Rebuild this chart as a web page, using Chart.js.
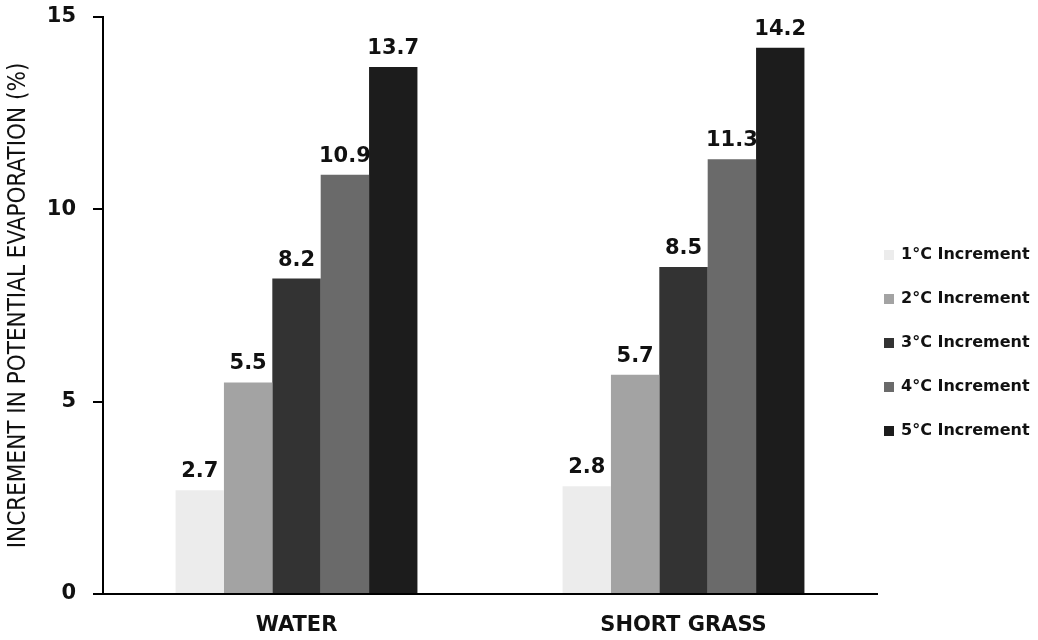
<!DOCTYPE html>
<html>
<head>
<meta charset="utf-8">
<script src="https://cdn.jsdelivr.net/npm/chart.js@4.4.0/dist/chart.umd.min.js"></script>
<style>
  html, body { margin: 0; padding: 0; background: #fff; }
  #wrap { width: 1038px; height: 640px; }
</style>
</head>
<body>
<div id="wrap"><canvas id="evap"></canvas></div>
<script>
  // data
  const categories = ['WATER', 'SHORT GRASS'];
  const seriesNames = ['1°C Increment', '2°C Increment', '3°C Increment', '4°C Increment', '5°C Increment'];
  const inc1 = [2.7, 2.8];
  const inc2 = [5.5, 5.7];
  const inc3 = [8.2, 8.5];
  const inc4 = [10.9, 11.3];
  const inc5 = [13.7, 14.2];
  const yTicks = [0, 5, 10, 15];

  const colours = ['#ececec', '#a3a3a3', '#333333', '#6a6a6a', '#1c1c1c'];
  const boldFont = "'DejaVu Sans', Verdana, sans-serif";

  // value labels above each bar
  const valueLabels = {
    id: 'valueLabels',
    afterDatasetsDraw(chart) {
      const ctx = chart.ctx;
      ctx.save();
      ctx.font = 'bold 21px ' + boldFont;
      ctx.fillStyle = '#111';
      ctx.textAlign = 'center';
      ctx.textBaseline = 'alphabetic';
      chart.data.datasets.forEach((ds, i) => {
        chart.getDatasetMeta(i).data.forEach((bar, j) => {
          ctx.fillText(ds.data[j].toFixed(1), bar.x, bar.y - 13);
        });
      });
      ctx.restore();
    }
  };

  // legend on the right, square swatches
  const sideLegend = {
    id: 'sideLegend',
    afterDraw(chart) {
      const ctx = chart.ctx;
      ctx.save();
      ctx.font = 'bold 16px ' + boldFont;
      ctx.textBaseline = 'middle';
      ctx.textAlign = 'left';
      chart.data.datasets.forEach((ds, i) => {
        const y = 255 + i * 44;
        ctx.fillStyle = ds.backgroundColor;
        ctx.fillRect(884, y - 5, 10, 10);
        ctx.fillStyle = '#111';
        ctx.fillText(ds.label, 901, y);
      });
      ctx.restore();
    }
  };

  const series = [inc1, inc2, inc3, inc4, inc5];

  new Chart(document.getElementById('evap'), {
    type: 'bar',
    data: {
      labels: categories,
      datasets: series.map((s, i) => ({
        label: seriesNames[i],
        data: s,
        backgroundColor: colours[i],
        borderWidth: 0,
        categoryPercentage: 0.625,
        barPercentage: 1.0
      }))
    },
    options: {
      responsive: true,
      maintainAspectRatio: false,
      animation: false,
      layout: { padding: { top: 17, right: 161, left: 0, bottom: 0 } },
      plugins: {
        legend: { display: false },
        tooltip: { enabled: false }
      },
      scales: {
        x: {
          grid: { display: false },
          border: { display: true, color: '#000', width: 2 },
          ticks: {
            color: '#111',
            font: { family: boldFont, size: 21, weight: 'bold' },
            padding: 11
          },
          afterFit(scale) { scale.height = 46; }
        },
        y: {
          min: 0,
          max: 15,
          afterBuildTicks(scale) { scale.ticks = yTicks.map(v => ({ value: v })); },
          grid: {
            drawOnChartArea: false,
            drawTicks: true,
            tickLength: 10,
            color: '#000',
            lineWidth: 2
          },
          border: { display: true, color: '#000', width: 2 },
          ticks: {
            color: '#111',
            font: { family: boldFont, size: 21, weight: 'bold' },
            padding: 17
          },
          title: {
            display: true,
            text: 'INCREMENT IN POTENTIAL EVAPORATION (%)',
            color: '#111',
            font: { family: "'Liberation Sans Narrow', 'DejaVu Sans Condensed', sans-serif", size: 24 },
            padding: { top: 4, bottom: 0 }
          },
          afterFit(scale) {
            scale.width = 103;
            // ticks.padding is otherwise added to the top overhang
            scale.paddingTop = 12;
            scale.paddingBottom = 12;
          }
        }
      }
    },
    plugins: [valueLabels, sideLegend]
  });
</script>
</body>
</html>
